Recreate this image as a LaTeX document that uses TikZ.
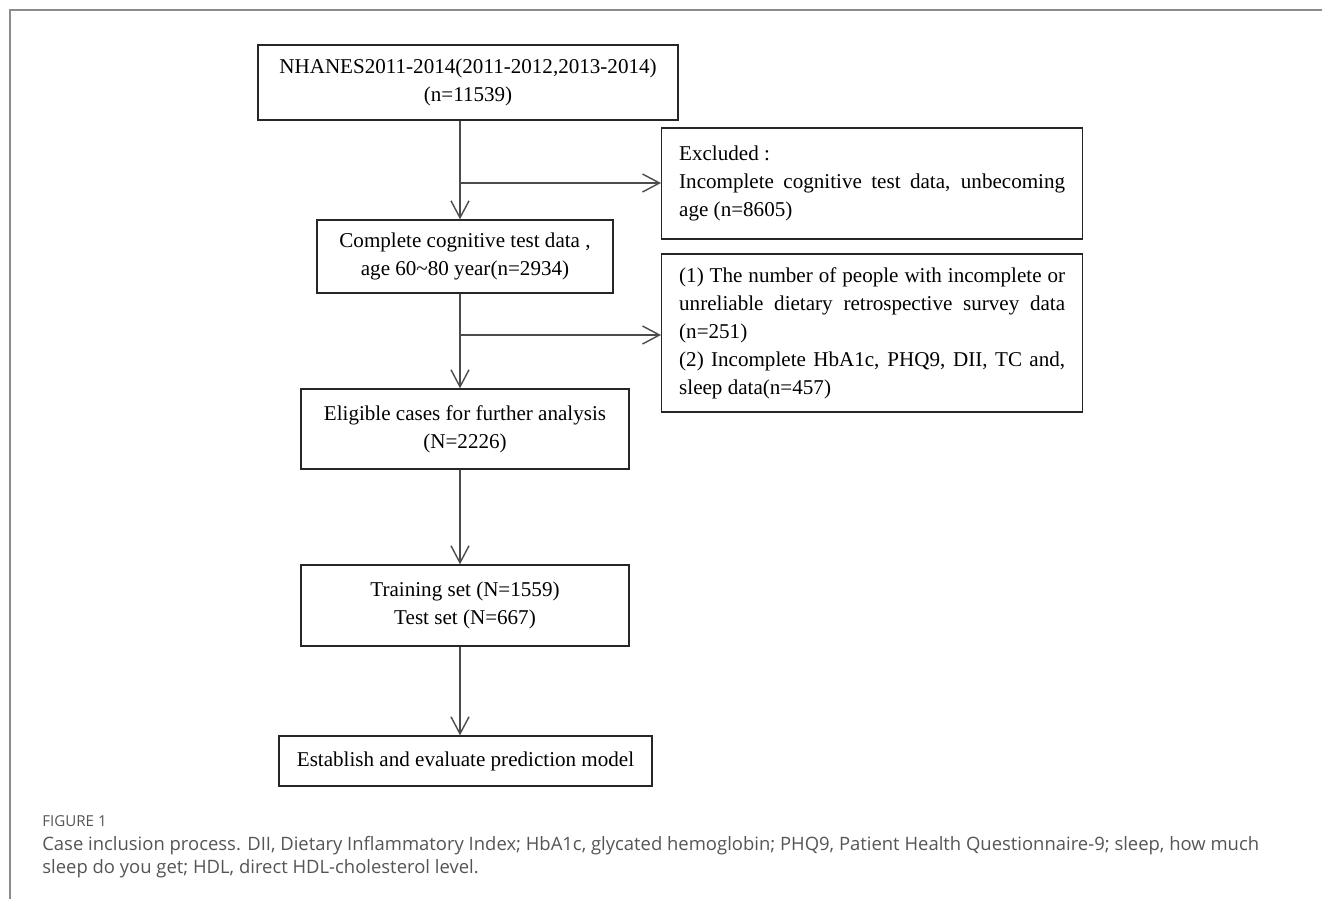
\documentclass[tikz,border=0pt]{standalone}
\usepackage{fontspec}
\setmainfont{Liberation Serif}
\newfontfamily\capfont{Open Sans}
\usepackage{xcolor}
\usetikzlibrary{arrows.meta, positioning}

\definecolor{framegray}{HTML}{8C8C8C}
\definecolor{capgray}{HTML}{555555}

\begin{document}
\begin{tikzpicture}[x=0.02cm, y=-0.02cm, box/.style={draw=black!85, line width=0.8pt, align=center, font=\fontsize{12}{15.9}\selectfont}, note/.style={draw=black!85, line width=0.8pt, anchor=west, align=justify, text width=7.72cm, inner xsep=0.35cm, font=\fontsize{12}{15.9}\selectfont}, line/.style={draw=black!70, line width=0.8pt, -{Straight Barb[length=0.34cm, width=0.36cm]}}]
\useasboundingbox (0,0) rectangle (1322,899);
\draw[framegray, line width=1.2pt] (10,899) -- (10,10) -- (1322,10);
\node[box, minimum width=8.4cm, minimum height=1.5cm] (nhanes) at (468,82.5) {NHANES2011-2014(2011-2012,2013-2014)\\(n=11539)};
\node[note, minimum height=2.22cm] (excl) at (661,183.5) {Excluded :\\Incomplete cognitive test data, unbecoming\linebreak age (n=8605)};
\node[box, minimum width=5.92cm, minimum height=1.46cm] (cmp) at (465,256.5) {Complete cognitive test data ,\\age 60\textasciitilde80 year(n=2934)};
\node[note, minimum height=3.16cm] (drop) at (661,333) {(1) The number of people with incomplete or\linebreak unreliable dietary retrospective survey data\linebreak (n=251)\\(2) Incomplete HbA1c, PHQ9, DII, TC and,\linebreak sleep data(n=457)};
\node[box, minimum width=6.56cm, minimum height=1.6cm] (elig) at (465,429) {Eligible cases for further analysis\\(N=2226)};
\node[box, minimum width=6.56cm, minimum height=1.62cm] (split) at (465,605.5) {Training set (N=1559)\\Test set (N=667)};
\node[box, minimum width=7.46cm, minimum height=1cm] (model) at (465.5,761) {Establish and evaluate prediction model};
% branch points on the trunk
\coordinate (b1) at (460,183);
\coordinate (b2) at (460,335);
\draw[line] (b1 |- nhanes.south) -- (b1 |- cmp.north);
\draw[line] (b1) -- (b1 -| excl.west);
\draw[line] (b2 |- cmp.south) -- (b2 |- elig.north);
\draw[line] (b2) -- (b2 -| drop.west);
\draw[line] (b2 |- elig.south) -- (b2 |- split.north);
\draw[line] (b2 |- split.south) -- (b2 |- model.north);
% caption
\node[anchor=base west, inner sep=0, font=\capfont\fontsize{8.6}{10}\selectfont, text=capgray] (fig) at (42,826) {FIGURE 1};
\node[anchor=base west, inner sep=0, align=left, font=\capfont\fontsize{10.5}{13}\selectfont, text=capgray] (cap) at (42,873) {Case inclusion process. DII, Dietary Inflammatory Index; HbA1c, glycated hemoglobin; PHQ9, Patient Health Questionnaire-9; sleep, how much\\sleep do you get; HDL, direct HDL-cholesterol level.};
\end{tikzpicture}
\end{document}
